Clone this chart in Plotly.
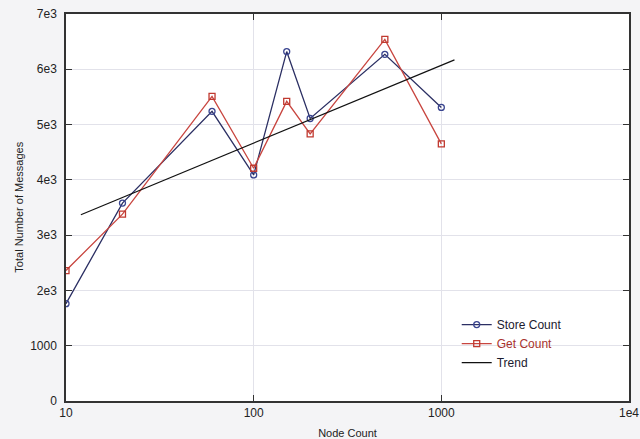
import plotly.graph_objects as go

node_counts = [10, 20, 60, 100, 150, 200, 500, 1000]
store_count = [1760, 3580, 5240, 4090, 6320, 5110, 6270, 5310]
get_count = [2360, 3380, 5510, 4210, 5420, 4830, 6540, 4650]
trend_x = [12, 1175]
trend_y = [3370, 6170]

x_tickvals = [10, 100, 1000, 10000]
x_ticktext = ["10", "100", "1000", "1e4"]
y_tickvals = [0, 1000, 2000, 3000, 4000, 5000, 6000, 7000]
y_ticktext = ["0", "1000", "2e3", "3e3", "4e3", "5e3", "6e3", "7e3"]

store_color = "#2b2f63"
get_color = "#c8453f"

fig = go.Figure()
fig.add_trace(go.Scatter(
    x=node_counts, y=store_count, mode="lines+markers",
    name="Store Count",
    line=dict(color=store_color, width=1.3),
    marker=dict(symbol="circle-open", size=6, color="#3a4590", line=dict(width=1.3)),
))
fig.add_trace(go.Scatter(
    x=node_counts, y=get_count, mode="lines+markers",
    name="<span style='color:#a8322c'>Get Count</span>",
    line=dict(color=get_color, width=1.3),
    marker=dict(symbol="square-open", size=6, color="#c0392f", line=dict(width=1.3)),
))
fig.add_trace(go.Scatter(
    x=trend_x, y=trend_y, mode="lines", name="Trend",
    line=dict(color="#111111", width=1.2),
))

fig.update_layout(
    width=640, height=439,
    margin=dict(l=66, r=11, t=14, b=38),
    paper_bgcolor="#f4f4f6",
    plot_bgcolor="#ffffff",
    font=dict(family="Liberation Sans, Arial, sans-serif", size=12, color="#222222"),
    showlegend=True,
    legend=dict(
        x=0.694, y=0.235, xanchor="left", yanchor="top",
        bgcolor="rgba(0,0,0,0)", borderwidth=0,
        font=dict(size=12, color="#1a1a2e"),
        tracegroupgap=0,
    ),
    annotations=[dict(
        text="Total Number of Messages", textangle=-90,
        xref="paper", yref="paper", x=-0.085, y=0.5,
        xanchor="center", yanchor="middle", showarrow=False,
        font=dict(size=11, color="#222222"),
    )],
)
fig.update_xaxes(
    type="log", range=[0.99999, 4.00001],
    tickvals=x_tickvals, ticktext=x_ticktext,
    ticks="inside", ticklen=6, tickcolor="#333333",
    showline=True, linecolor="#333333", linewidth=1.5, mirror="allticks",
    showgrid=True, gridcolor="#e2e2ea", gridwidth=1,
    zeroline=False, automargin=False, ticklabeloverflow="allow",
    title=dict(text="Node Count", font=dict(size=11)),
    tickfont=dict(size=12),
)
fig.update_yaxes(
    range=[0, 7000],
    tickvals=y_tickvals, ticktext=y_ticktext,
    ticks="inside", ticklen=6, tickcolor="#333333",
    showline=True, linecolor="#333333", linewidth=1.5, mirror="allticks",
    showgrid=True, gridcolor="#e2e2ea", gridwidth=1,
    zeroline=False, automargin=False, ticklabeloverflow="allow",
    ticklabelstandoff=5,
    tickfont=dict(size=12),
)

fig.write_html(
    "out.html",
    config={"displayModeBar": False},
    post_script="document.body.style.margin='0';document.body.style.background='#f4f4f6';",
)
